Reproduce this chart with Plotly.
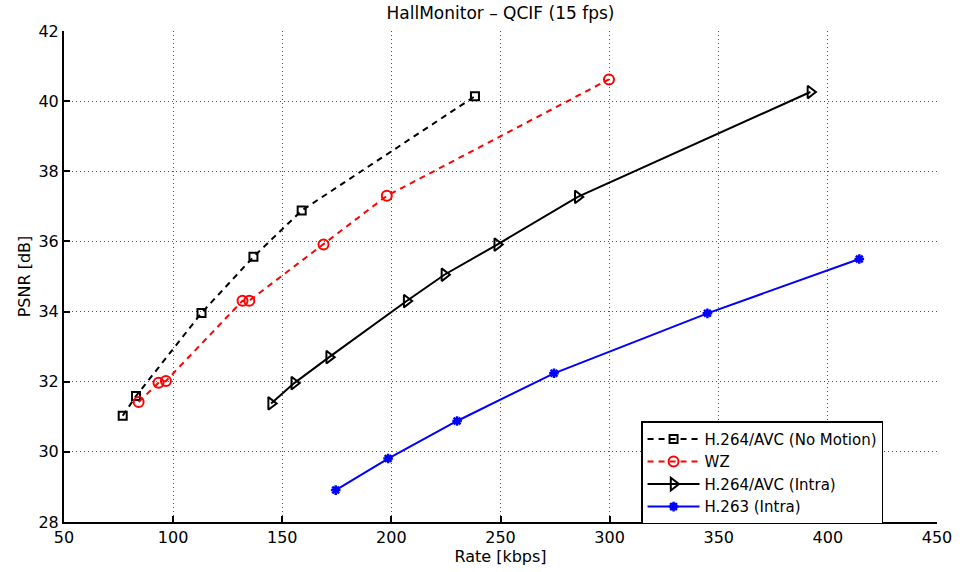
import plotly.graph_objects as go

# Data
nm_rate = [76.9, 83.0, 113.0, 136.8, 158.9, 238.3]
nm_psnr = [31.03, 31.59, 33.96, 35.56, 36.88, 40.14]

wz_rate = [84.2, 93.3, 96.7, 131.8, 134.9, 168.9, 197.9, 299.7]
wz_psnr = [31.42, 31.97, 32.02, 34.31, 34.31, 35.91, 37.30, 40.62]

intra_rate = [144.9, 155.5, 171.5, 207.0, 224.3, 248.5, 285.4, 392.0]
intra_psnr = [31.38, 31.96, 32.70, 34.30, 35.05, 35.91, 37.27, 40.26]

h263_rate = [174.5, 198.5, 230.1, 274.5, 344.8, 414.4]
h263_psnr = [28.91, 29.81, 30.88, 32.24, 33.95, 35.50]

names = ["H.264/AVC (No Motion)", "WZ", "H.264/AVC (Intra)", "H.263 (Intra)"]

FONT = "DejaVu Sans"

fig = go.Figure()
fig.add_trace(go.Scatter(
    x=nm_rate, y=nm_psnr, name=names[0], mode="lines+markers",
    line=dict(color="black", width=2, dash="6px,5px"),
    marker=dict(symbol="square-open", size=8, color="black", line=dict(width=2, color="black")),
))
fig.add_trace(go.Scatter(
    x=wz_rate, y=wz_psnr, name=names[1], mode="lines+markers",
    line=dict(color="red", width=2, dash="6px,5px"),
    marker=dict(symbol="circle-open", size=10, color="red", line=dict(width=2, color="red")),
))
fig.add_trace(go.Scatter(
    x=intra_rate, y=intra_psnr, name=names[2], mode="lines+markers",
    line=dict(color="black", width=2),
    marker=dict(symbol="triangle-right-open", size=11, color="black", line=dict(width=2, color="black")),
))
fig.add_trace(go.Scatter(
    x=h263_rate, y=h263_psnr, name=names[3], mode="lines+markers",
    line=dict(color="blue", width=2),
    marker=dict(symbol="asterisk-open", size=8, color="blue", line=dict(width=2.5, color="blue")),
))

axis_common = dict(
    showline=True, linecolor="black", linewidth=2,
    ticks="inside", ticklen=6, tickwidth=2, tickcolor="black",
    showgrid=True, gridcolor="rgb(80,80,80)", gridwidth=1, griddash="1px,3px",
    zeroline=False, mirror=False,
    tickfont=dict(family=FONT, size=16, color="black"),
)

fig.update_xaxes(
    range=[50, 450], dtick=50, tick0=50,
    title=dict(text="Rate [kbps]", font=dict(family=FONT, size=16, color="black"), standoff=2),
    **axis_common,
)
fig.update_yaxes(
    range=[28, 42], dtick=2, tick0=28,
    title=dict(text="PSNR [dB]", font=dict(family=FONT, size=16, color="black"), standoff=4),
    **axis_common,
)

fig.update_layout(
    width=964, height=572,
    margin=dict(l=64, r=20, t=31, b=49),
    paper_bgcolor="white", plot_bgcolor="white",
    title=dict(text="HallMonitor – QCIF (15 fps)", x=0.5, xanchor="center",
               xref="paper", y=0.977, yanchor="middle",
               font=dict(family=FONT, size=17, color="black")),
    legend=dict(
        x=0.661, y=0.205, xanchor="left", yanchor="top",
        bgcolor="white", bordercolor="black", borderwidth=1.5,
        font=dict(family=FONT, size=15, color="black"),
        tracegroupgap=0, itemwidth=52,
    ),
    showlegend=True,
)

fig.write_html("out.html")
